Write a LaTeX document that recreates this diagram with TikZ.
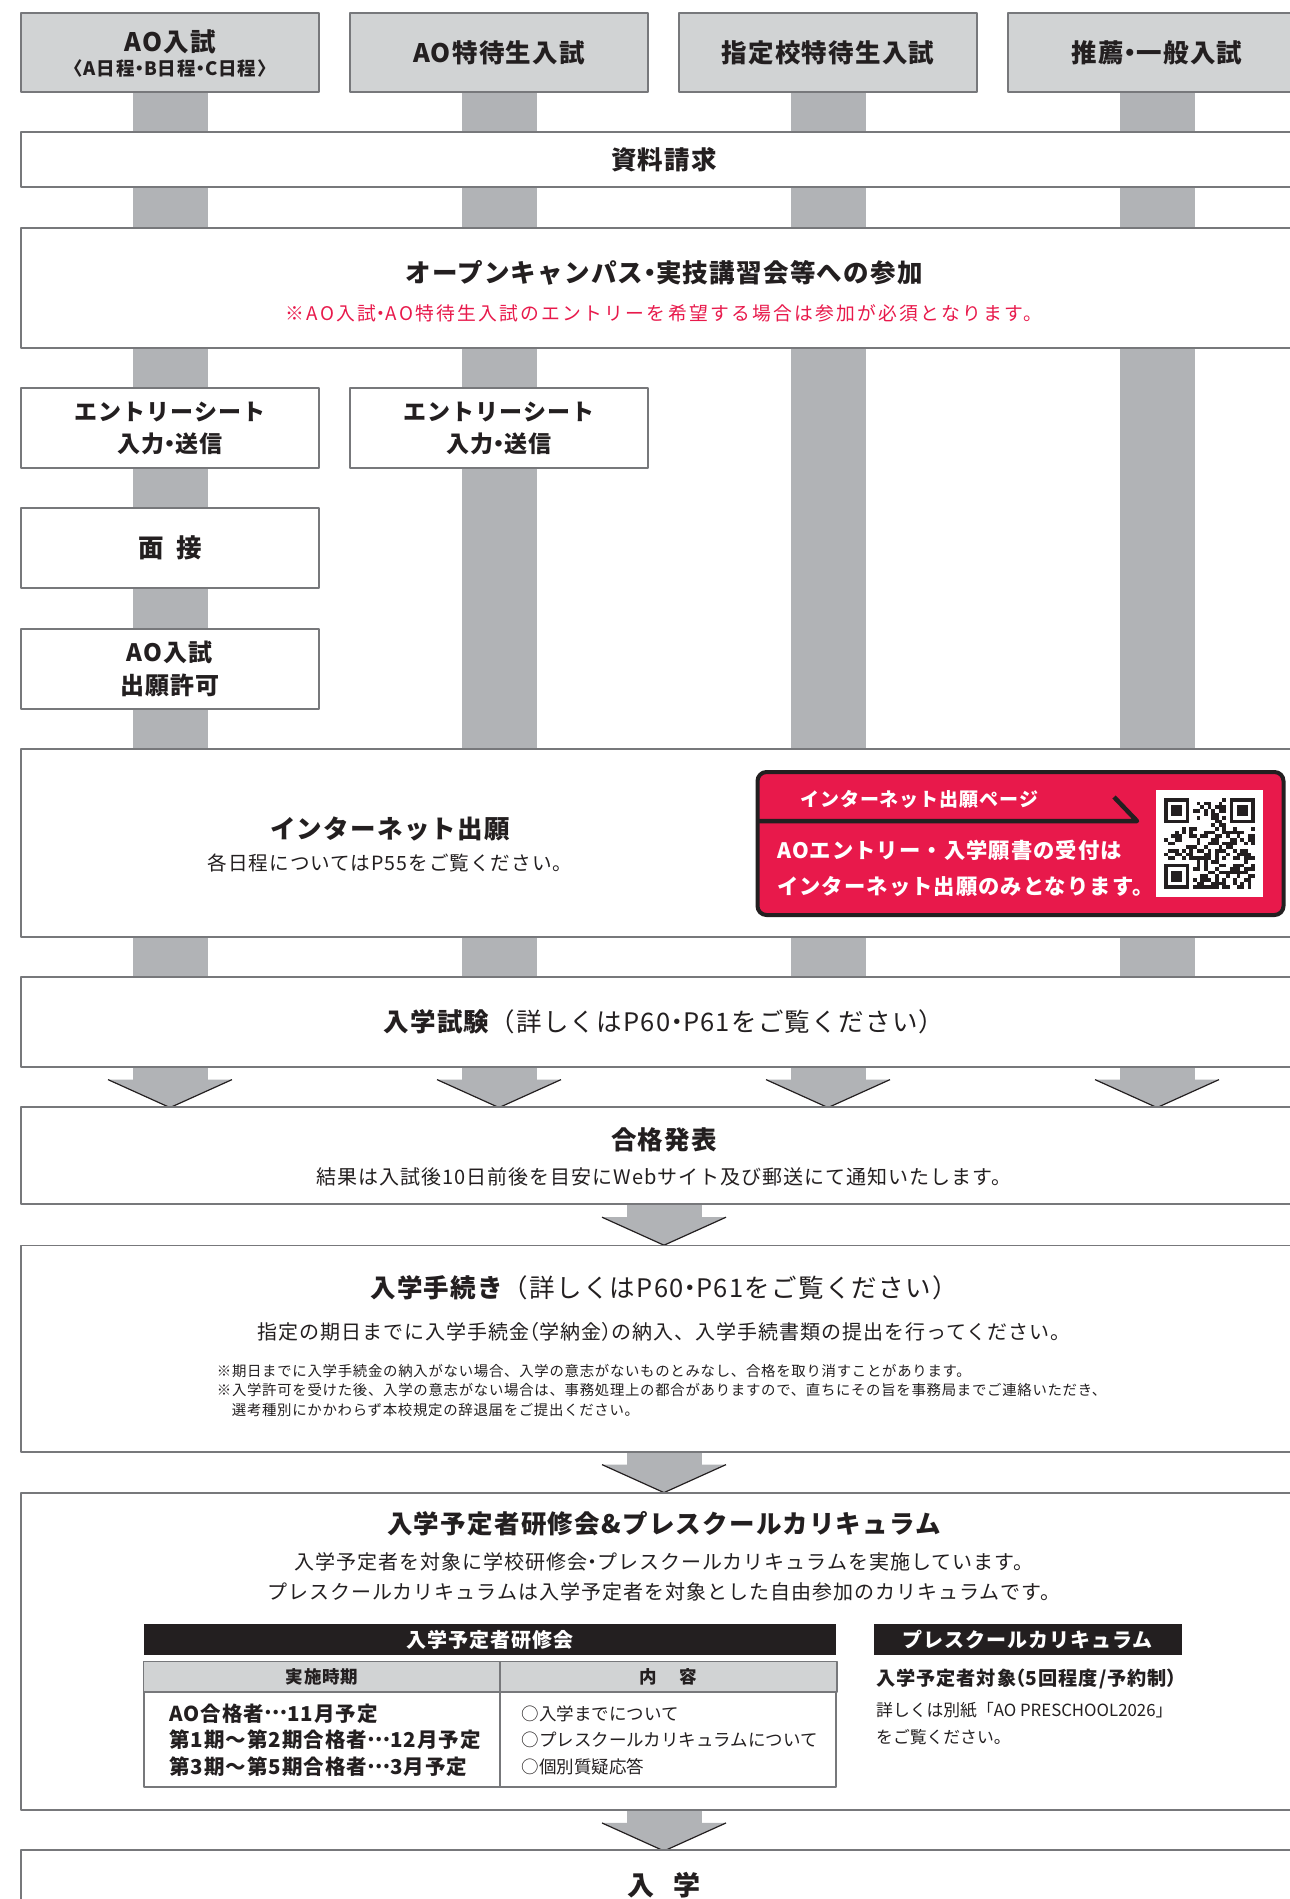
\documentclass[tikz,border=0pt]{standalone}
\usepackage{fontspec}
\setmainfont{Noto Sans CJK JP}
\newfontfamily\jp{Noto Sans CJK JP}[LetterSpace=5]
\newfontfamily\jpw{Noto Sans CJK JP}[LetterSpace=12]
\newfontfamily\jpn{Noto Sans CJK JP}
\newcommand\nd{{\addfontfeature{CharacterWidth=AlternateHalf}・}}
\newcommand\hw[1]{{\addfontfeature{CharacterWidth=AlternateHalf}#1}}
\newcommand\dotsfw{\raisebox{.3em}{…}}
\usetikzlibrary{backgrounds}
\definecolor{ink}{HTML}{231F20}
\definecolor{bargray}{HTML}{B1B3B6}
\definecolor{headgray}{HTML}{D1D3D4}
\definecolor{linegray}{HTML}{77787B}
\definecolor{alertred}{HTML}{E8194B}
\begin{document}
\begin{tikzpicture}[x=1pt,y=-1pt,line join=round,
	box/.style={draw=linegray,line width=1.8,fill=white,inner sep=0},
	headbox/.style={box,fill=headgray,minimum width=298,minimum height=79},
	bar/.style={bargray,line width=75},
	ttl/.style={font=\jp\bfseries\fontsize{25.5}{28}\selectfont,text=ink,inner sep=0},
	txt/.style={font=\jp\fontsize{20}{22}\selectfont,text=ink,inner sep=0},
	note/.style={font=\jp\fontsize{14.4}{16}\selectfont,text=ink,inner sep=0,anchor=west},
	inbar/.style={fill=ink,text=white,font=\jp\bfseries\fontsize{20}{22}\selectfont,minimum height=31,inner sep=0},
	cell/.style={font=\jp\bfseries\fontsize{20.5}{22}\selectfont,text=ink,inner sep=0,anchor=west},
	item/.style={font=\jpn\fontsize{17.5}{20}\selectfont,text=ink,inner sep=0,anchor=west},
	onred/.style={font=\jp\bfseries\fontsize{21.3}{24}\selectfont,text=white,inner sep=0,anchor=west},
	pics/flowdown/.style={code={
		\fill[bargray] (-37.5,0) rectangle (37.5,12);
		\fill[bargray] (-62,12) -- (0,40) -- (62,12) -- cycle;
		\draw[ink,line width=1.2] (-62,12) -- (0,40) -- (62,12);}}]
	\useasboundingbox (0,0) rectangle (1290,1899);
	\clip (0,0) rectangle (1290,1899);
	%==入試区分
	\foreach \n/\x in {t1/170,t2/499,t3/828,t4/1157}
		\node[headbox] (\n) at (\x,52.8) {};
	\node[ttl] at (170,41.7) {AO入試};
	\node[ttl,font=\jp\bfseries\fontsize{18.5}{20}\selectfont] at (170,68.3) {〈A日程\nd B日程\nd C日程〉};
	\node[ttl] at (t2) {AO特待生入試};
	\node[ttl] at (t3) {指定校特待生入試};
	\node[ttl] at (t4) {推薦\nd 一般入試};
	%==共通の流れ
	\node[box,ttl,minimum width=1286,minimum height=55] (req) at (664,159.5) {資料請求};
	\node[box,minimum width=1286,minimum height=120] (open) at (664,288) {};
	\node[ttl] at (664,273) {オープンキャンパス\nd 実技講習会等への参加};
	\node[txt,text=alertred,font=\jpw\fontsize{18.8}{22}\selectfont] at (664,313) {※AO入試\nd AO特待生入試のエントリーを希望する場合は参加が必須となります。};
	\node[box,ttl,minimum width=298,minimum height=80,align=center,font=\jp\bfseries\fontsize{23}{32.3}\selectfont] (es1) at (170,428.3) {エントリーシート\\入力\nd 送信};
	\node[box,ttl,minimum width=298,minimum height=80,align=center,font=\jp\bfseries\fontsize{23}{32.3}\selectfont] (es2) at (499,428.3) {エントリーシート\\入力\nd 送信};
	\node[box,ttl,minimum width=298,minimum height=80] (itv) at (170,548.3) {面\hspace{13pt}接};
	\node[box,ttl,minimum width=298,minimum height=80,align=center,font=\jp\bfseries\fontsize{24}{32.3}\selectfont] (perm) at (170,669) {AO入試\\出願許可};
	%==インターネット出願
	\node[box,minimum width=1286,minimum height=188] (net) at (664,843) {};
	\node[ttl] at (390,829) {インターネット出願};
	\node[txt,font=\jp\fontsize{19.6}{22}\selectfont] at (390,863) {各日程についてはP55をご覧ください。};
	\node[draw=ink,line width=4,fill=alertred,rounded corners=9,minimum width=526,minimum height=143,inner sep=0] (web) at (1020.5,843.5) {};
	\draw[ink,line width=4.5] (757,821) -- (1137,821) -- (1114,797);
	\node[onred,font=\jp\bfseries\fontsize{19}{22}\selectfont] at (800,799) {インターネット出願ページ};
	\node[onred] at (777,850) {AOエントリー・入学願書の受付は};
	\node[onred] at (777,887) {インターネット出願のみとなります。};
	\node[fill=white,minimum size=107,inner sep=0] (qr) at (1209.5,843.5) {};
	\def\qs{3.64}
	\pgfmathsetseed{2026}
	\foreach \i in {0,...,24}{
		\foreach \j in {0,...,24}{
			\pgfmathtruncatemacro\qzone{(\i<8 && \j<8) || (\i>16 && \j<8) || (\i<8 && \j>16)}
			\pgfmathtruncatemacro\qon{rnd<0.48}
			\ifnum\qzone=0 \ifnum\qon=1
				\fill[ink] ({1164+\i*\qs},{798+\j*\qs}) rectangle ++(\qs,\qs);
			\fi\fi
		}
	}
	\foreach \fx/\fy in {0/0,18/0,0/18}{
		\fill[ink] ({1164+\fx*\qs},{798+\fy*\qs}) rectangle ++(7*\qs,7*\qs);
		\fill[white] ({1164+(\fx+1)*\qs},{798+(\fy+1)*\qs}) rectangle ++(5*\qs,5*\qs);
		\fill[ink] ({1164+(\fx+2)*\qs},{798+(\fy+2)*\qs}) rectangle ++(3*\qs,3*\qs);
	}
	%==試験から入学まで
	\node[box,ttl,minimum width=1286,minimum height=89.4] (exam) at (664,1022) {入学試験{\mdseries（詳しくはP60\nd P61をご覧ください）}};
	\node[box,minimum width=1286,minimum height=97] (pass) at (664,1155.8) {};
	\node[ttl] at (664,1140) {合格発表};
	\node[txt] at (664,1176.7) {結果は入試後10日前後を目安にWebサイト及び郵送にて通知いたします。};
	\node[box,minimum width=1286,minimum height=206.2] (proc) at (664,1348.6) {};
	\node[ttl] at (664,1288) {入学手続き{\mdseries（詳しくはP60\nd P61をご覧ください）}};
	\node[txt] at (664,1331.7) {指定の期日までに入学手続金\hw{（}学納金\hw{）}の納入、入学手続書類の提出を行ってください。};
	\node[note] at (216.7,1370.7) {※期日までに入学手続金の納入がない場合、入学の意志がないものとみなし、合格を取り消すことがあります。};
	\node[note] at (216.7,1390) {※入学許可を受けた後、入学の意志がない場合は、事務処理上の都合がありますので、直ちにその旨を事務局までご連絡いただき、};
	\node[note] at (231.7,1410) {選考種別にかかわらず本校規定の辞退届をご提出ください。};
	\node[box,minimum width=1286,minimum height=317.3] (pre) at (664,1651.4) {};
	\node[ttl] at (664,1523.3) {入学予定者研修会\&プレスクールカリキュラム};
	\node[txt] at (664,1561.7) {入学予定者を対象に学校研修会\nd プレスクールカリキュラムを実施しています。};
	\node[txt] at (664,1591.7) {プレスクールカリキュラムは入学予定者を対象とした自由参加のカリキュラムです。};
	\node[inbar,minimum width=691.4] (camp) at (490,1639.5) {入学予定者研修会};
	\node[inbar,minimum width=307.7] (psc) at (1027.85,1639.5) {プレスクールカリキュラム};
	\node[box,minimum width=691.4,minimum height=124.4] (tbl) at (490,1724.5) {};
	\filldraw[fill=headgray,draw=linegray,line width=1.8] (tbl.north west) rectangle (tbl.east |- 0,1692.3);
	\draw[linegray,line width=1.8] (500,1662.3) -- (500,1786.7);
	\node[cell,anchor=center,font=\jp\bfseries\fontsize{17.5}{20}\selectfont] at (322,1677.3) {実施時期};
	\node[cell,anchor=center,font=\jp\bfseries\fontsize{17.5}{20}\selectfont] at (668,1677.3) {内\hspace{22pt}容};
	\foreach \y/\t in {1713.3/AO合格者\dotsfw 11月予定,1740/第1期〜第2期合格者\dotsfw 12月予定,1766.7/第3期〜第5期合格者\dotsfw 3月予定}
		\node[cell] at (169,\y) {\t};
	\foreach \y/\t in {1713.3/○入学までについて,1740/○プレスクールカリキュラムについて,1766.7/○個別質疑応答}
		\node[item] at (521.7,\y) {\t};
	\node[cell,font=\jp\bfseries\fontsize{19.2}{20}\selectfont] at (876,1679) {入学予定者対象\hw{（}5回程度/予約制\hw{）}};
	\node[item,font=\jpn\fontsize{16.8}{20}\selectfont] at (876,1710.7) {詳しくは別紙「AO PRESCHOOL2026」};
	\node[item,font=\jpn\fontsize{16.8}{20}\selectfont] at (876,1736.7) {をご覧ください。};
	\node[box,ttl,minimum width=1286,minimum height=70,font=\jp\bfseries\fontsize{27}{28}\selectfont] (adm) at (664,1885) {入\hspace{20pt}学};
	%==縦の帯と矢印
	\begin{pgfonlayer}{background}
		\foreach \n in {t1,t2,t3,t4}{
			\draw[bar] (\n.south) -- (\n.south |- exam.south);
			\pic at (\n.south |- exam.south) {flowdown};
		}
		\foreach \n in {pass,proc,pre}
			\pic at (\n.south) {flowdown};
	\end{pgfonlayer}
\end{tikzpicture}
\end{document}
